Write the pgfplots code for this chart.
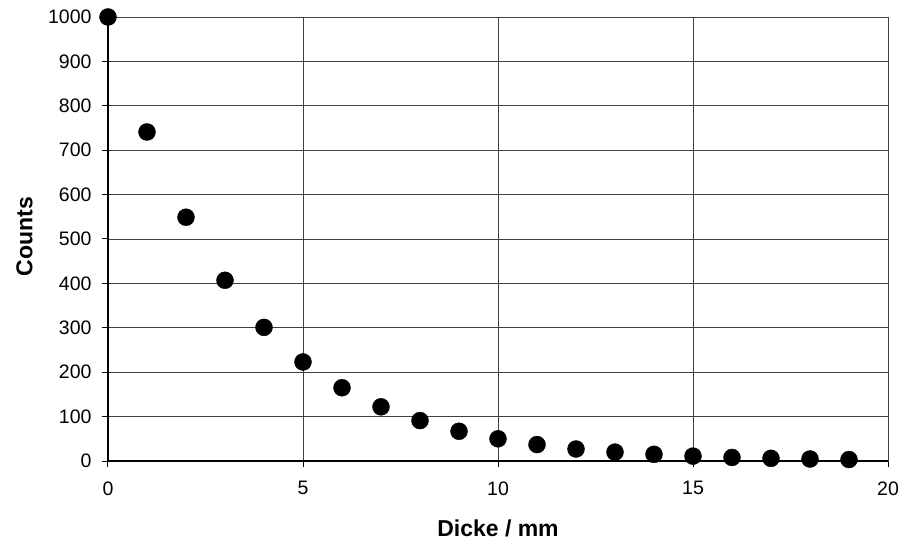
\documentclass[border=0pt]{standalone}
\usepackage{pgfplots}
\pgfplotsset{compat=1.18}
\usepackage{fontspec}
\setmainfont{Liberation Sans}
\begin{document}
\begin{tikzpicture}
\begin{axis}[
  at={(0bp,0bp)}, anchor=south west,
  scale only axis,
  width=780bp, height=444bp,
  xmin=0, xmax=20, ymin=0, ymax=1000,
  xtick={0,5,10,15,20},
  ytick={0,100,...,1000},
  tick align=outside,
  major tick length=6bp,
  xtick pos=left, ytick pos=left,
  major tick style={black, line width=1bp},
  tick label style={font=\fontsize{19.5bp}{23bp}\selectfont},
  xticklabel style={yshift=-11bp},
  yticklabel style={xshift=-7bp},
  axis line style={black!75, line width=0.9bp},
  grid=major,
  major grid style={black!75, line width=0.9bp},
  clip=false,
  xlabel={\textbf{Dicke / mm}},
  ylabel={\textbf{Counts}},
  label style={font=\fontsize{23bp}{27bp}\selectfont},
  xlabel style={at={(axis description cs:0.5,-0.1509)}, anchor=center},
  ylabel style={at={(axis description cs:-0.107,0.505)}, anchor=center},
  /pgf/number format/1000 sep={},
  /pgf/number format/assume math mode=true,
]
\draw[black, line width=1.1bp] (axis cs:0,1000) -- (axis cs:0,0) -- (axis cs:20,0);
\addplot[only marks, mark=*, mark size=8.5bp, black] coordinates {
(0,1000) (1,741) (2,549) (3,407) (4,301) (5,223) (6,165) (7,122) (8,91) (9,67)
(10,50) (11,37) (12,27) (13,20) (14,15) (15,11) (16,8) (17,6) (18,4.5) (19,3.3)
};
\end{axis}
\pgfresetboundingbox
\path[use as bounding box] (-108bp,-80bp) rectangle (791bp,461bp);
\end{tikzpicture}
\end{document}
